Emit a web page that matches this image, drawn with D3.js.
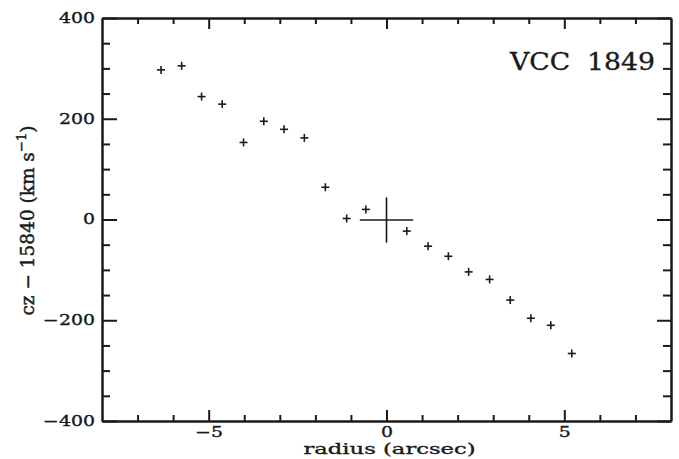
<!DOCTYPE html>
<html>
<head>
<meta charset="utf-8">
<script src="https://cdn.jsdelivr.net/npm/d3@7"></script>
<style>
  body { margin: 0; background: #fff; }
  svg { display: block; }
  .axis path, .axis line { stroke: #1a1a1a; stroke-width: 2; }
  .axis text { font-family: "DejaVu Serif", serif; font-size: 14px; fill: #1a1a1a; }
  svg text { stroke: #1a1a1a; stroke-width: 0.35px; }
</style>
</head>
<body>
<div id="graph"></div>
<script>
// radius (arcsec) and cz - 15840 (km/s)
var radius = [-6.34, -5.76, -5.20, -4.62, -4.02, -3.45, -2.88, -2.31, -1.72, -1.12, -0.58,
              0.57, 1.17, 1.74, 2.31, 2.90, 3.48, 4.06, 4.62, 5.21];
var velocity = [297, 305, 244, 229, 153, 195, 179, 162, 64, 2, 20,
                -23, -53, -73, -104, -119, -160, -196, -210, -266];

// central point with its error bars
var centre = { r: 0, v: -1, dr: 0.75, dv: 45 };

var xMajor = [-5, 0, 5];
var xMinor = [-7, -6, -4, -3, -2, -1, 1, 2, 3, 4, 6, 7];
var yMajor = [-400, -200, 0, 200, 400];
var yMinor = [-350, -300, -250, -150, -100, -50, 50, 100, 150, 250, 300, 350];

var margin = { top: 18, right: 8, bottom: 38, left: 102 },
    width = 679 - margin.left - margin.right,
    height = 459 - margin.top - margin.bottom;

// the original figure is stretched sideways, so its lettering is too
var stretch = 1.35;

var svg = d3.select('#graph')
    .append('svg')
    .attr('width', 679)
    .attr('height', 459)
    .append('g')
    .attr('transform', 'translate(' + margin.left + ',' + margin.top + ')');

var x = d3.scaleLinear().domain([-8, 8]).range([0, width]);
var y = d3.scaleLinear().domain([-400, 400]).range([height, 0]);

var fmt = function(d) { return d < 0 ? '\u2212' + Math.abs(d) : d; };

// ---- axes: ticks inward on all four sides ----
svg.append('g').attr('class', 'axis')
    .attr('transform', 'translate(0,' + height + ')')
    .call(d3.axisBottom(x).tickValues(xMajor).tickSize(-11).tickSizeOuter(0).tickPadding(6).tickFormat(fmt))
    .selectAll('text').attr('transform', 'scale(' + stretch + ',1)');
svg.append('g').attr('class', 'axis')
    .attr('transform', 'translate(0,' + height + ')')
    .call(d3.axisBottom(x).tickValues(xMinor).tickSize(-6).tickSizeOuter(0).tickFormat(''));
svg.append('g').attr('class', 'axis')
    .call(d3.axisTop(x).tickValues(xMajor).tickSize(-11).tickSizeOuter(0).tickFormat(''));
svg.append('g').attr('class', 'axis')
    .call(d3.axisTop(x).tickValues(xMinor).tickSize(-6).tickSizeOuter(0).tickFormat(''));

svg.append('g').attr('class', 'axis')
    .call(d3.axisLeft(y).tickValues(yMajor).tickSize(-15).tickSizeOuter(0).tickPadding(7 / stretch).tickFormat(fmt))
    .selectAll('text').attr('transform', 'scale(' + stretch + ',1)');
svg.append('g').attr('class', 'axis')
    .call(d3.axisLeft(y).tickValues(yMinor).tickSize(-8).tickSizeOuter(0).tickFormat(''));
svg.append('g').attr('class', 'axis')
    .attr('transform', 'translate(' + width + ',0)')
    .call(d3.axisRight(y).tickValues(yMajor).tickSize(-14).tickSizeOuter(0).tickFormat(''));
svg.append('g').attr('class', 'axis')
    .attr('transform', 'translate(' + width + ',0)')
    .call(d3.axisRight(y).tickValues(yMinor).tickSize(-8).tickSizeOuter(0).tickFormat(''));

// axis labels
svg.append('text')
    .attr('x', x(0) - 83)
    .attr('y', height + 33)
    .attr('textLength', 172)
    .attr('lengthAdjust', 'spacingAndGlyphs')
    .style('font-family', '"DejaVu Serif", serif')
    .style('font-size', '15px')
    .attr('fill', '#1a1a1a')
    .text('radius (arcsec)');

var ylab = svg.append('text')
    .attr('transform', 'translate(-68,' + (y(0) + 1) + ') scale(' + stretch + ',1) rotate(-90)')
    .attr('x', -95)
    .attr('textLength', 190)
    .attr('lengthAdjust', 'spacingAndGlyphs')
    .style('font-family', '"DejaVu Serif", serif')
    .style('font-size', '14px')
    .attr('fill', '#1a1a1a');
ylab.append('tspan').text('cz \u2212 15840 (km s');
ylab.append('tspan').attr('dy', -6).style('font-size', '10px').text('\u22121');
ylab.append('tspan').attr('dy', 6).text(')');

// object name
svg.append('text')
    .attr('x', width - 161)
    .attr('y', 51.5)
    .attr('textLength', 145)
    .attr('lengthAdjust', 'spacingAndGlyphs')
    .style('white-space', 'pre')
    .style('font-family', '"DejaVu Serif", serif')
    .style('font-size', '24px')
    .attr('fill', '#1a1a1a')
    .text('VCC  1849');

// ---- points as small crosses ----
var pts = radius.map(function(r, i) { return [r, velocity[i]]; });
var arm = 4;
var marks = svg.append('g').attr('stroke', '#1a1a1a').attr('stroke-width', 1.6);
marks.selectAll('.h').data(pts).enter().append('line')
    .attr('x1', function(d) { return x(d[0]) - arm; })
    .attr('x2', function(d) { return x(d[0]) + arm; })
    .attr('y1', function(d) { return y(d[1]); })
    .attr('y2', function(d) { return y(d[1]); });
marks.selectAll('.v').data(pts).enter().append('line')
    .attr('x1', function(d) { return x(d[0]); })
    .attr('x2', function(d) { return x(d[0]); })
    .attr('y1', function(d) { return y(d[1]) - arm; })
    .attr('y2', function(d) { return y(d[1]) + arm; });

// central point error bars
marks.append('line')
    .attr('x1', x(centre.r - centre.dr)).attr('x2', x(centre.r + centre.dr))
    .attr('y1', y(centre.v)).attr('y2', y(centre.v));
marks.append('line')
    .attr('x1', x(centre.r)).attr('x2', x(centre.r))
    .attr('y1', y(centre.v - centre.dv)).attr('y2', y(centre.v + centre.dv));
</script>
</body>
</html>
